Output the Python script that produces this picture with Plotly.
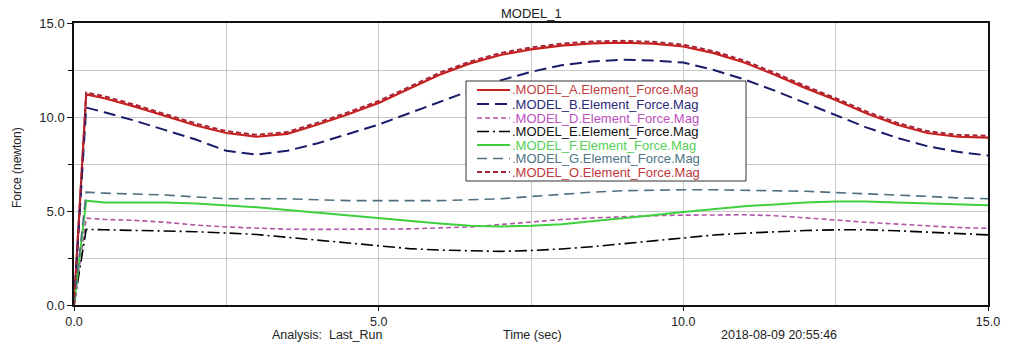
import plotly.graph_objects as go

# ---------------- data ----------------
time_s = [0.0, 0.2, 0.5, 1.0, 1.5, 2.0, 2.5, 3.0, 3.5, 4.0, 4.5, 5.0, 5.5, 6.0, 6.5, 7.0,
          7.5, 8.0, 8.5, 9.0, 9.5, 10.0, 10.5, 11.0, 11.5, 12.0, 12.5, 13.0, 13.5, 14.0, 14.5, 15.0]

force_A = [0.0, 11.2, 11.0, 10.55, 10.05, 9.55, 9.15, 8.95, 9.1, 9.6, 10.15, 10.75, 11.5, 12.25, 12.85, 13.3,
           13.6, 13.8, 13.92, 13.95, 13.9, 13.75, 13.4, 12.9, 12.25, 11.55, 10.9, 10.2, 9.6, 9.15, 8.95, 8.9]
force_B = [0.0, 10.5, 10.25, 9.8, 9.3, 8.8, 8.2, 8.0, 8.2, 8.6, 9.1, 9.6, 10.2, 10.8, 11.4, 11.95,
           12.4, 12.75, 12.95, 13.05, 13.0, 12.9, 12.5, 12.0, 11.4, 10.75, 10.1, 9.45, 8.9, 8.45, 8.15, 7.95]
force_D = [0.0, 4.62, 4.55, 4.5, 4.4, 4.25, 4.15, 4.08, 4.03, 4.02, 4.02, 4.03, 4.05, 4.1, 4.15, 4.28,
           4.42, 4.55, 4.63, 4.7, 4.75, 4.78, 4.8, 4.8, 4.75, 4.65, 4.52, 4.4, 4.3, 4.2, 4.12, 4.08]
force_E = [0.0, 4.02, 4.0, 3.98, 3.95, 3.9, 3.83, 3.75, 3.6, 3.45, 3.28, 3.12, 3.0, 2.92, 2.87, 2.85,
           2.9, 2.98, 3.1, 3.25, 3.42, 3.58, 3.72, 3.82, 3.9, 3.96, 4.0, 4.0, 3.95, 3.88, 3.8, 3.73]
force_F = [0.0, 5.55, 5.45, 5.45, 5.45, 5.4, 5.3, 5.2, 5.05, 4.9, 4.75, 4.6, 4.45, 4.33, 4.22, 4.18,
           4.22, 4.3, 4.45, 4.6, 4.78, 4.95, 5.1, 5.25, 5.35, 5.45, 5.5, 5.5, 5.45, 5.4, 5.35, 5.3]
force_G = [0.0, 6.0, 5.95, 5.9, 5.85, 5.75, 5.65, 5.65, 5.65, 5.6, 5.55, 5.55, 5.55, 5.55, 5.6, 5.65,
           5.77, 5.9, 6.0, 6.08, 6.12, 6.13, 6.13, 6.1, 6.08, 6.05, 5.98, 5.92, 5.85, 5.78, 5.7, 5.65]
force_O = [0.0, 11.3, 11.1, 10.65, 10.15, 9.65, 9.25, 9.05, 9.2, 9.7, 10.25, 10.85, 11.6, 12.35, 12.95, 13.4,
           13.7, 13.9, 14.02, 14.05, 14.0, 13.85, 13.5, 13.0, 12.35, 11.65, 11.0, 10.3, 9.7, 9.25, 9.05, 9.0]

series_names = [".MODEL_A.Element_Force.Mag", ".MODEL_B.Element_Force.Mag", ".MODEL_D.Element_Force.Mag",
                ".MODEL_E.Element_Force.Mag", ".MODEL_F.Element_Force.Mag", ".MODEL_G.Element_Force.Mag",
                ".MODEL_O.Element_Force.Mag"]
series_values = [force_A, force_B, force_D, force_E, force_F, force_G, force_O]

x_ticks = [0.0, 5.0, 10.0, 15.0]
y_ticks = [0.0, 5.0, 10.0, 15.0]

# ---------------- styles ----------------
line_colors = ["#c8201e", "#1a1a6a", "#b455a8", "#000000", "#3fcf3f", "#4f6f80", "#a82436"]
text_colors = ["#c04040", "#2a2a78", "#c050c0", "#111111", "#55d055", "#4f7585", "#c03a40"]
dashes = ["solid", "12px,6px", "5px,3px", "12px,4px,2px,4px", "solid", "10px,6px", "5px,3px"]
widths = [2.2, 2.0, 1.6, 1.6, 2.0, 1.6, 2.0]

W, H = 1021, 345
L, R, T, B = 74, 988, 23, 305
FONT = "Liberation Sans, Arial, sans-serif"


def px(x):
    return (x - L) / (R - L)


def py(y):
    return (B - y) / (B - T)


fig = go.Figure()
for i in range(len(series_values)):
    fig.add_trace(go.Scatter(
        x=time_s, y=series_values[i], mode="lines", name=series_names[i],
        line=dict(color=line_colors[i], width=widths[i], dash=dashes[i]),
        showlegend=False,
    ))

shapes = []
annotations = []

# legend box
shapes.append(dict(type="rect", xref="paper", yref="paper",
                   x0=px(466), x1=px(746), y0=py(181), y1=py(81),
                   line=dict(color="#333333", width=1), fillcolor="white", layer="above"))
row_y = [90, 104, 118, 131.5, 145, 158.5, 172]
for i, name in enumerate(series_names):
    shapes.append(dict(type="line", xref="paper", yref="paper",
                       x0=px(477), x1=px(510), y0=py(row_y[i]), y1=py(row_y[i]),
                       line=dict(color=line_colors[i], width=widths[i], dash=dashes[i]), layer="above"))
    annotations.append(dict(xref="paper", yref="paper", x=px(511), y=py(row_y[i]),
                            text=name, showarrow=False, xanchor="left", yanchor="middle",
                            borderpad=0,
                            font=dict(family=FONT, size=13, color=text_colors[i])))

# title
annotations.append(dict(xref="paper", yref="paper", x=px(531), y=py(13), text="MODEL_1",
                        showarrow=False, xanchor="center", yanchor="middle",
                        font=dict(family=FONT, size=13, color="#222222")))
# y title
annotations.append(dict(xref="paper", yref="paper", x=px(17), y=py(168), text="Force (newton)",
                        textangle=-90, showarrow=False, xanchor="center", yanchor="middle",
                        font=dict(family=FONT, size=12, color="#222222")))
# bottom line texts
for txt, xc in [("Analysis:&nbsp;&nbsp;Last_Run", 327), ("Time (sec)", 532), ("2018-08-09 20:55:46", 779)]:
    annotations.append(dict(xref="paper", yref="paper", x=px(xc), y=py(335), text=txt,
                            showarrow=False, xanchor="center", yanchor="middle", borderpad=0,
                            font=dict(family=FONT, size=12.5, color="#222222")))

grid_col = "#c8c8c8"
fig.update_layout(
    width=W, height=H,
    margin=dict(l=L, r=W - R, t=T, b=H - B),
    paper_bgcolor="white", plot_bgcolor="white",
    showlegend=False,
    shapes=shapes, annotations=annotations,
    font=dict(family=FONT, size=13, color="#222222"),
    xaxis=dict(range=[0, 15], tickmode="array", tickvals=x_ticks, tickformat=".1f",
               showgrid=True, gridcolor=grid_col, gridwidth=1,
               showline=True, linecolor="#111111", linewidth=1.5, mirror=True,
               ticks="outside", ticklen=4, tickcolor="#111111", zeroline=False,
               minor=dict(dtick=2.5, tick0=0, showgrid=True, gridcolor=grid_col, gridwidth=1, ticks=""),
               tickfont=dict(family=FONT, size=12.5, color="#222222")),
    yaxis=dict(range=[0, 15], tickmode="array", tickvals=y_ticks, tickformat=".1f",
               showgrid=True, gridcolor=grid_col, gridwidth=1,
               showline=True, linecolor="#111111", linewidth=1.5, mirror=True,
               ticks="outside", ticklen=5, tickcolor="#111111", zeroline=False,
               minor=dict(dtick=2.5, tick0=0, showgrid=True, gridcolor=grid_col, gridwidth=1,
                          ticks="outside", ticklen=4, tickcolor="#111111"),
               tickfont=dict(family=FONT, size=13, color="#222222")),
)

fig.write_html("out.html", config={"displayModeBar": False},
               post_script="document.body.style.margin='0';document.body.style.overflow='hidden';")
